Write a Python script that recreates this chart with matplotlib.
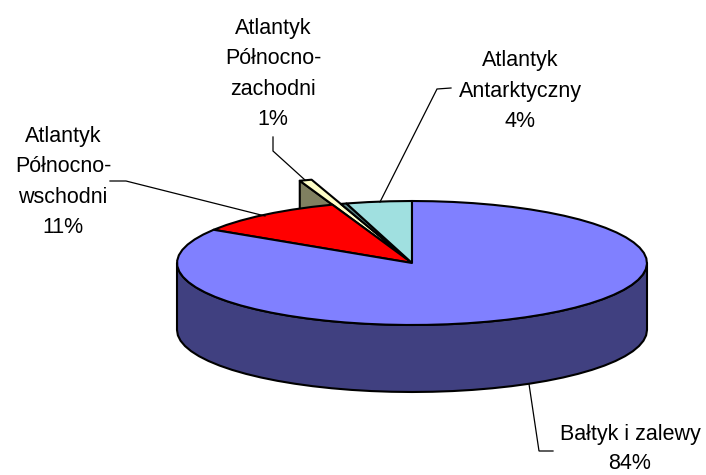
import numpy as np
import matplotlib
matplotlib.use("Agg")
import matplotlib.pyplot as plt
from matplotlib.patches import Polygon

categories = ["Bałtyk i zalewy", "Atlantyk\nPółnocno-\nwschodni", "Atlantyk\nPółnocno-\nzachodni", "", "Atlantyk\nAntarktyczny"]
values = [84.0, 10.5, 0.6, 0.4, 4.5]
top_colors = ["#8080FF", "#FF0000", "#FFFFC8", "#5F8A8A", "#A0E0E0"]
wall_colors = ["#404080", "#800000", "#808060", "#304545", "#507070"]
radius_factor = [1.0, 1.0, 1.41, 1.0, 1.0]
percent_labels = ["84%", "11%", "1%", "", "4%"]
label_xy = [(630, 449), (63, 182), (273, 74), None, (520, 91)]
line_spacing = [1.5, 1.58, 1.58, 1.58, 1.58]
leaders = [
    [(529, 384), (539, 451), (553, 451)],
    [(110, 181), (126, 181), (265, 216)],
    [(273, 137), (273, 151), (305, 180)],
    None,
    [(451, 88), (437, 89), (380, 202)],
]

CX, CY, RX, RY, DEPTH = 412, 263, 235, 62, 67
FONT = "Liberation Sans"
FS = 15.5
EDGE = "#000000"

fig = plt.figure(figsize=(7.06, 4.75), dpi=100)
ax = fig.add_axes([0, 0, 1, 1])
ax.set_xlim(0, 706)
ax.set_ylim(475, 0)
ax.axis("off")


def pt(theta_deg, r=1.0, dz=0):
    t = np.radians(theta_deg)
    return CX + r * RX * np.sin(t), CY - r * RY * np.cos(t) + dz


def arc(a, b, r=1.0, dz=0, step=5.0):
    n = max(2, int(abs(b - a) / step) + 1)
    th = np.linspace(a, b, n)
    return np.column_stack(pt(th, r, dz))


angles = np.concatenate([[0], np.cumsum(values) * 3.6])
lw = 1.5
style = dict(edgecolor=EDGE, linewidth=lw, joinstyle="round")

# extruded wall of the small raised slice, behind everything
a0, r0 = angles[2], radius_factor[2]
outer = pt(a0, r0)
wall = [outer, pt(a0, r0, DEPTH), pt(0, 0, DEPTH), pt(0, 0)]
ax.add_patch(Polygon(wall, closed=True, facecolor=wall_colors[2], zorder=1, **style))

# outer wall of the main slice (front half of the cylinder)
front_top = arc(90, 270)
front_bot = arc(270, 90, dz=DEPTH)
ax.add_patch(Polygon(np.vstack([front_top, front_bot]), closed=True,
                     facecolor=wall_colors[0], zorder=2, **style))

# top faces
order = [2, 1, 3, 4, 0]
for z, i in enumerate(order):
    a, b = angles[i], angles[i + 1]
    poly = np.vstack([[pt(0, 0)], arc(a, b, radius_factor[i])])
    ax.add_patch(Polygon(poly, closed=True, facecolor=top_colors[i], zorder=3 + z, **style))

# labels
for cat, pct, xy, lead, ls in zip(categories, percent_labels, label_xy, leaders, line_spacing):
    if xy is None:
        continue
    ax.text(xy[0], xy[1], cat + "\n" + pct, family=FONT, fontsize=FS, color="black",
            ha="center", va="center", linespacing=ls, zorder=20)
    xs, ys = zip(*lead)
    ax.plot(xs, ys, color="black", lw=0.9, zorder=15, solid_joinstyle="miter")

fig.savefig("out.png", dpi=100, facecolor="white")
